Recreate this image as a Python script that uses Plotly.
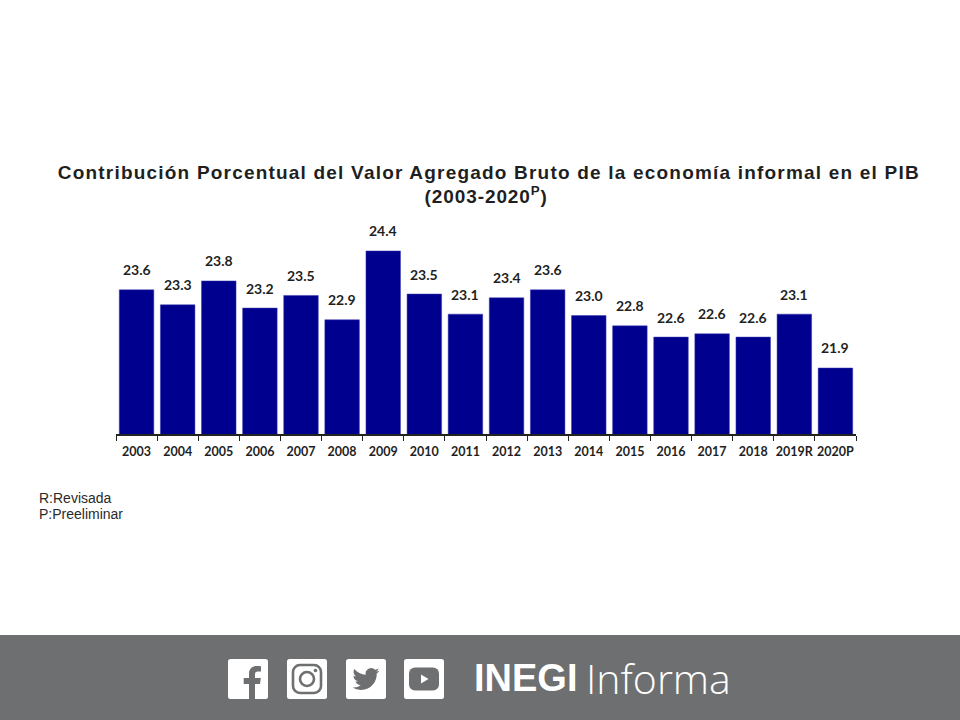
import base64
import plotly.graph_objects as go

# ---- data ----
years = ["2003", "2004", "2005", "2006", "2007", "2008", "2009", "2010", "2011",
         "2012", "2013", "2014", "2015", "2016", "2017", "2018", "2019R", "2020P"]
values = [23.57, 23.25, 23.76, 23.18, 23.45, 22.93, 24.40, 23.48, 23.05,
          23.40, 23.57, 23.02, 22.80, 22.56, 22.63, 22.56, 23.05, 21.90]
labels = ["23.6", "23.3", "23.8", "23.2", "23.5", "22.9", "24.4", "23.5", "23.1",
          "23.4", "23.6", "23.0", "22.8", "22.6", "22.6", "22.6", "23.1", "21.9"]
title_line1 = "Contribución Porcentual del Valor Agregado Bruto de la economía informal en el PIB"
title_line2 = "(2003-2020<sup>P</sup>)"
notes = ["R:Revisada", "P:Preeliminar"]

W, H = 960, 720
BAR = "#00008f"
BAND = "#6d6f70"
INK = "#1f1f1f"


def px(x):
    return x / W


def py(y):
    return 1 - y / H


def svg_uri(body):
    svg = f'<svg xmlns="http://www.w3.org/2000/svg" viewBox="0 0 40 40" width="160" height="160">{body}</svg>'
    return "data:image/svg+xml;base64," + base64.b64encode(svg.encode()).decode()


TILE = '<rect x="0" y="0" width="40" height="40" rx="2.5" fill="#ffffff"/>'
icons = [
    (228, TILE + f'<path fill="{BAND}" d="M27 40V25h5l.8-6H27v-3.6c0-1.7.6-3 3-3h3V7.2C32.3 7.1 30.6 7 28.700 7 24.300 7 21 9.600 21 14.700V19h-5.300v6H21v15z"/>'),
    (287, TILE + f'<rect x="6" y="6" width="28" height="28" rx="7" fill="none" stroke="{BAND}" stroke-width="2.600"/>'
                 f'<circle cx="20" cy="20" r="7" fill="none" stroke="{BAND}" stroke-width="2.600"/><circle cx="28.500" cy="11.500" r="1.800" fill="{BAND}"/>'),
    (346, TILE + f'<g transform="translate(6.500 6.500) scale(1.125)"><path fill="{BAND}" d="M23.953 4.57a10 10 0 01-2.825.775 4.958 4.958 0 002.163-2.723c-.951.555-2.005.959-3.127 1.184a4.92 4.92 0 00-8.384 4.482C7.69 8.095 4.067 6.13 1.64 3.162a4.822 4.822 0 00-.666 2.475c0 1.71.87 3.213 2.188 4.096a4.904 4.904 0 01-2.228-.616v.06a4.923 4.923 0 003.946 4.827 4.996 4.996 0 01-2.212.085 4.936 4.936 0 004.604 3.417 9.867 9.867 0 01-6.102 2.105c-.39 0-.779-.023-1.17-.067a13.995 13.995 0 007.557 2.209c9.053 0 13.998-7.496 13.998-13.985 0-.21 0-.42-.015-.63A9.935 9.935 0 0024 4.59z"/></g>'),
    (404, TILE + f'<rect x="5" y="8.500" width="30" height="23" rx="6" fill="{BAND}"/><path fill="#ffffff" d="M17 15.500v9l7.500-4.500z"/>'),
]

fig = go.Figure(
    go.Bar(
        x=years, y=values,
        marker=dict(color=BAR, line=dict(color="#3a3ab0", width=0.5)),
        width=0.84,
        hoverinfo="skip",
    )
)

# numeric-looking category names are read as serials by annotations, so place them by index
annotations = [
    dict(x=i, y=v, text=lb, xref="x", yref="y", showarrow=False, yshift=20, yanchor="middle",
         font=dict(family="Lato, Noto Sans, sans-serif", size=14, color=INK, weight=700))
    for i, (v, lb) in enumerate(zip(values, labels))
]
annotations += [
    dict(x=px(489), y=py(172), xref="paper", yref="paper", text=title_line1, showarrow=False,
         xanchor="center", yanchor="middle",
         font=dict(family="Liberation Sans, Arial, sans-serif", size=19, color=INK, weight=700)),
    dict(x=px(486), y=py(195), xref="paper", yref="paper", text=title_line2, showarrow=False,
         xanchor="center", yanchor="middle",
         font=dict(family="Liberation Sans, Arial, sans-serif", size=19, color=INK, weight=700)),
    dict(x=px(37), y=py(497.5), xref="paper", yref="paper", text=notes[0], showarrow=False,
         xanchor="left", yanchor="middle",
         font=dict(family="Liberation Sans, Arial, sans-serif", size=14, color="#2a2a2a")),
    dict(x=px(37), y=py(513.5), xref="paper", yref="paper", text=notes[1], showarrow=False,
         xanchor="left", yanchor="middle",
         font=dict(family="Liberation Sans, Arial, sans-serif", size=14, color="#2a2a2a")),
    dict(x=px(472), y=py(678), xref="paper", yref="paper", text="INEGI", showarrow=False,
         xanchor="left", yanchor="middle",
         font=dict(family="Liberation Sans, sans-serif", size=38, color="#ffffff", weight=700)),
    dict(x=px(584), y=py(678), xref="paper", yref="paper", text="Informa", showarrow=False,
         xanchor="left", yanchor="middle",
         font=dict(family="Open Sans, sans-serif", size=41, color="#ffffff", weight=300)),
]

fig.update_layout(
    width=W, height=H,
    margin=dict(l=0, r=0, t=0, b=0),
    paper_bgcolor="#ffffff", plot_bgcolor="#ffffff",
    showlegend=False,
    xaxis=dict(
        domain=[px(116), px(856)],
        type="category",
        categoryorder="array", categoryarray=years,
        range=[-0.5, len(years) - 0.5],
        tickson="boundaries",
        tickangle=0,
        ticks="outside", ticklen=5, tickwidth=1.2, tickcolor="#222222",
        ticklabelstandoff=5,
        showline=True, linecolor="#222222", linewidth=1.6,
        showgrid=False, zeroline=False,
        tickfont=dict(family="Lato, Noto Sans, sans-serif", size=12.5, color=INK, weight=700),
    ),
    yaxis=dict(
        domain=[py(434), py(140)],
        range=[20.49, 26.77],
        visible=False,
    ),
    annotations=annotations,
    shapes=[dict(type="rect", xref="paper", yref="paper", x0=0, x1=1, y0=0, y1=py(635),
                 fillcolor=BAND, line=dict(width=0), layer="below")],
    images=[
        dict(source=svg_uri(body), xref="paper", yref="paper", x=px(x0), y=py(659),
             sizex=px(40), sizey=40 / H, xanchor="left", yanchor="top", sizing="stretch", layer="above")
        for x0, body in icons
    ],
)

post = """
document.body.style.margin='0';
document.querySelectorAll('.annotation-text').forEach(function(t){
  var s=t.textContent;
  if(s.indexOf('Contribuci')===0){t.style.letterSpacing='1.2px';}
  if(s.indexOf('(2003')===0){t.style.letterSpacing='0.9px';}
});
"""
fig.write_html("out.html", config=dict(displayModeBar=False), post_script=post)
